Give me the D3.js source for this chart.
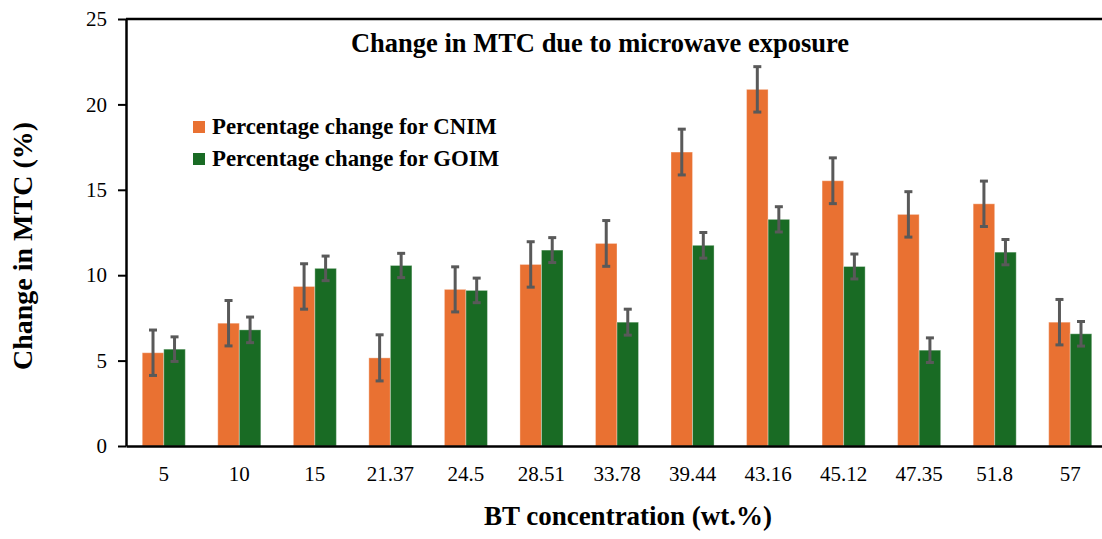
<!DOCTYPE html>
<html>
<head>
<meta charset="utf-8">
<script src="https://cdn.jsdelivr.net/npm/d3@7"></script>
<style>
  html, body { margin: 0; padding: 0; background: #fff; }
  svg { display: block; font-family: "Liberation Serif", "Times New Roman", serif; }
</style>
</head>
<body>
<div id="chart"></div>
<script>
// BT concentration (wt.%) categories
const categories = ['5', '10', '15', '21.37', '24.5', '28.51', '33.78', '39.44', '43.16', '45.12', '47.35', '51.8', '57'];

// Percentage change in MTC
const cnimValues = [5.46, 7.19, 9.34, 5.16, 9.17, 10.63, 11.86, 17.21, 20.88, 15.53, 13.56, 14.18, 7.25];
const goimValues = [5.67, 6.80, 10.40, 10.57, 9.11, 11.47, 7.25, 11.75, 13.27, 10.51, 5.61, 11.35, 6.57];

// error bar half-widths
const cnimErrors = [1.33, 1.33, 1.33, 1.35, 1.32, 1.33, 1.34, 1.34, 1.33, 1.34, 1.33, 1.33, 1.33];
const goimErrors = [0.72, 0.75, 0.72, 0.71, 0.72, 0.73, 0.76, 0.75, 0.74, 0.73, 0.72, 0.74, 0.72];

const seriesNames = ['Percentage change for CNIM', 'Percentage change for GOIM'];
const yTicks = [0, 5, 10, 15, 20, 25];

const colors = ['#E97132', '#196B24'];

const W = 1102, H = 539;
const mLeft = 126, mRight = 1108, mTop = 19, mBottom = 446;

const svg = d3.select('#chart').append('svg')
  .attr('width', W)
  .attr('height', H);

const x = d3.scaleBand()
  .domain(categories)
  .range([mLeft, mRight])
  .paddingInner(0.43)
  .paddingOuter(0.215);

const xSub = d3.scaleBand()
  .domain([0, 1])
  .range([0, x.bandwidth()]);

const y = d3.scaleLinear()
  .domain([0, 25])
  .range([mBottom, mTop]);

const rows = categories.map((c, i) => [
  { cat: c, s: 0, v: cnimValues[i], e: cnimErrors[i] },
  { cat: c, s: 1, v: goimValues[i], e: goimErrors[i] },
]).flat();

// bars
svg.append('g')
  .selectAll('rect')
  .data(rows)
  .join('rect')
  .attr('x', d => x(d.cat) + xSub(d.s))
  .attr('y', d => y(d.v))
  .attr('width', xSub.bandwidth())
  .attr('height', d => y(0) - y(d.v))
  .attr('fill', d => colors[d.s])
  .attr('stroke', 'rgba(255,255,255,0.35)')
  .attr('stroke-width', 1);

// error bars
const eb = svg.append('g')
  .attr('stroke', '#595959')
  .attr('stroke-width', 3)
  .selectAll('g')
  .data(rows)
  .join('g')
  .attr('transform', d => `translate(${x(d.cat) + xSub(d.s) + xSub.bandwidth() / 2},0)`);

eb.append('line')
  .attr('y1', d => y(d.v + d.e))
  .attr('y2', d => y(d.v - d.e));
eb.append('line')
  .attr('x1', -4).attr('x2', 4)
  .attr('y1', d => y(d.v + d.e))
  .attr('y2', d => y(d.v + d.e));
eb.append('line')
  .attr('x1', -4).attr('x2', 4)
  .attr('y1', d => y(d.v - d.e))
  .attr('y2', d => y(d.v - d.e));

// y axis
const yAxis = svg.append('g')
  .attr('transform', `translate(${mLeft},0)`)
  .call(d3.axisLeft(y).tickValues(yTicks).tickSize(8).tickSizeOuter(0).tickPadding(11));
yAxis.select('.domain').attr('stroke', '#000').attr('stroke-width', 2.5);
yAxis.selectAll('.tick line').attr('stroke', '#000').attr('stroke-width', 2);
yAxis.selectAll('.tick text')
  .attr('font-family', '"Liberation Serif", serif')
  .attr('font-size', 21)
  .attr('fill', '#000');

// x axis
const xAxis = svg.append('g')
  .attr('transform', `translate(0,${mBottom})`)
  .call(d3.axisBottom(x).tickSize(0).tickSizeOuter(0).tickPadding(20));
xAxis.select('.domain').attr('stroke', '#000').attr('stroke-width', 2.5);
xAxis.selectAll('.tick text')
  .attr('font-family', '"Liberation Serif", serif')
  .attr('font-size', 21)
  .attr('fill', '#000');

// top border
svg.append('line')
  .attr('x1', mLeft).attr('x2', mRight)
  .attr('y1', mTop).attr('y2', mTop)
  .attr('stroke', '#000')
  .attr('stroke-width', 2.5);

// title
svg.append('text')
  .attr('x', 600)
  .attr('y', 52)
  .attr('text-anchor', 'middle')
  .attr('font-weight', 'bold')
  .attr('font-size', 26.5)
  .text('Change in MTC due to microwave exposure');

// axis titles
svg.append('text')
  .attr('transform', 'translate(32,246) rotate(-90)')
  .attr('text-anchor', 'middle')
  .attr('font-weight', 'bold')
  .attr('font-size', 28)
  .text('Change in MTC (%)');

svg.append('text')
  .attr('x', 628)
  .attr('y', 525)
  .attr('text-anchor', 'middle')
  .attr('font-weight', 'bold')
  .attr('font-size', 27)
  .text('BT concentration (wt.%)');

// legend
const legend = svg.append('g')
  .selectAll('g')
  .data(seriesNames)
  .join('g')
  .attr('transform', (d, i) => `translate(193,${121 + i * 32})`);
legend.append('rect')
  .attr('width', 12)
  .attr('height', 12)
  .attr('fill', (d, i) => colors[i]);
legend.append('text')
  .attr('x', 19)
  .attr('y', 13)
  .attr('font-weight', 'bold')
  .attr('font-size', 22.8)
  .text(d => d);
</script>
</body>
</html>
